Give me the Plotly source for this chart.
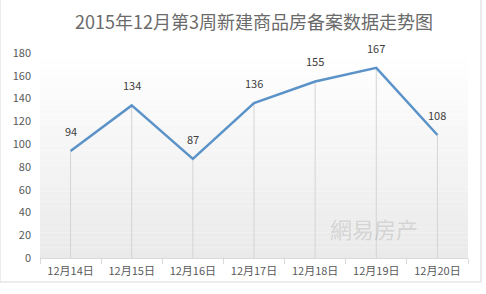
import plotly.graph_objects as go

categories = ["12月14日", "12月15日", "12月16日", "12月17日", "12月18日", "12月19日", "12月20日"]
values = [94, 134, 87, 136, 155, 167, 108]
y_ticks = [0, 20, 40, 60, 80, 100, 120, 140, 160, 180]
title_text = "2015年12月第3周新建商品房备案数据走势图"

FONT = "Noto Sans CJK SC, Noto Sans, sans-serif"
TXT = "#595959"

fig = go.Figure()

# drop lines from each point to the axis
dx, dy = [], []
for c, v in zip(categories, values):
    dx += [c, c, None]
    dy += [0, v, None]
fig.add_trace(go.Scatter(x=dx, y=dy, mode="lines",
                         line=dict(color="#d4d4d4", width=1),
                         hoverinfo="skip", showlegend=False))

fig.add_trace(go.Scatter(x=categories, y=values, mode="lines",
                         line=dict(color="#5b93c9", width=2.5),
                         showlegend=False))

annotations = []
for c, v in zip(categories, values):
    annotations.append(dict(x=c, y=v, text=str(v), showarrow=False, yshift=20,
                            font=dict(family=FONT, size=11, color="#404040")))

# gradient background bands in plot area
shapes = []
n = 40
for i in range(n):
    t = i / (n - 1)
    g = int(round(234 + (255 - 234) * t))
    shapes.append(dict(type="rect", xref="x domain", yref="y domain",
                       x0=0, x1=1, y0=i / n, y1=(i + 1) / n,
                       fillcolor=f"rgb({g},{g},{g})", line=dict(width=0), layer="below"))
# chart outer border
shapes.append(dict(type="rect", xref="paper", yref="paper",
                   x0=-40/428, x1=(481-40)/428, y0=-(282-258)/205, y1=(258+2)/205,
                   line=dict(color="#d9d9d9", width=1), fillcolor="rgba(0,0,0,0)", layer="below"))

annotations.append(dict(text="網易房产", xref="paper", yref="paper", x=(420-40)/428, y=-(246-258)/205,
                        showarrow=False, font=dict(family=FONT, size=22, color="rgba(150,150,150,0.3)")))

fig.update_layout(
    width=486, height=294,
    margin=dict(l=40, r=18, t=53, b=36),
    paper_bgcolor="white", plot_bgcolor="white",
    title=dict(text=title_text, x=0.5, xref="paper", xanchor="center",
               y=1 - 23/294, yanchor="middle",
               font=dict(family=FONT, size=18, color="#6a6a6a")),
    shapes=shapes,
    annotations=annotations,
)

fig.update_xaxes(type="category", categoryorder="array", categoryarray=categories,
                 range=[-0.5, len(categories) - 0.5],
                 showgrid=False, showline=True, linecolor="#d9d9d9", linewidth=1,
                 ticks="outside", tickson="boundaries", ticklen=5, tickcolor="#d9d9d9",
                 ticklabelstandoff=3,
                 tickfont=dict(family=FONT, size=11, color=TXT), zeroline=False)
fig.update_yaxes(range=[0, 180], tickvals=y_ticks, showgrid=False, showline=False,
                 zeroline=False, ticks="", ticklabelstandoff=8,
                 tickfont=dict(family=FONT, size=11, color=TXT))

fig.write_html("out.html")
